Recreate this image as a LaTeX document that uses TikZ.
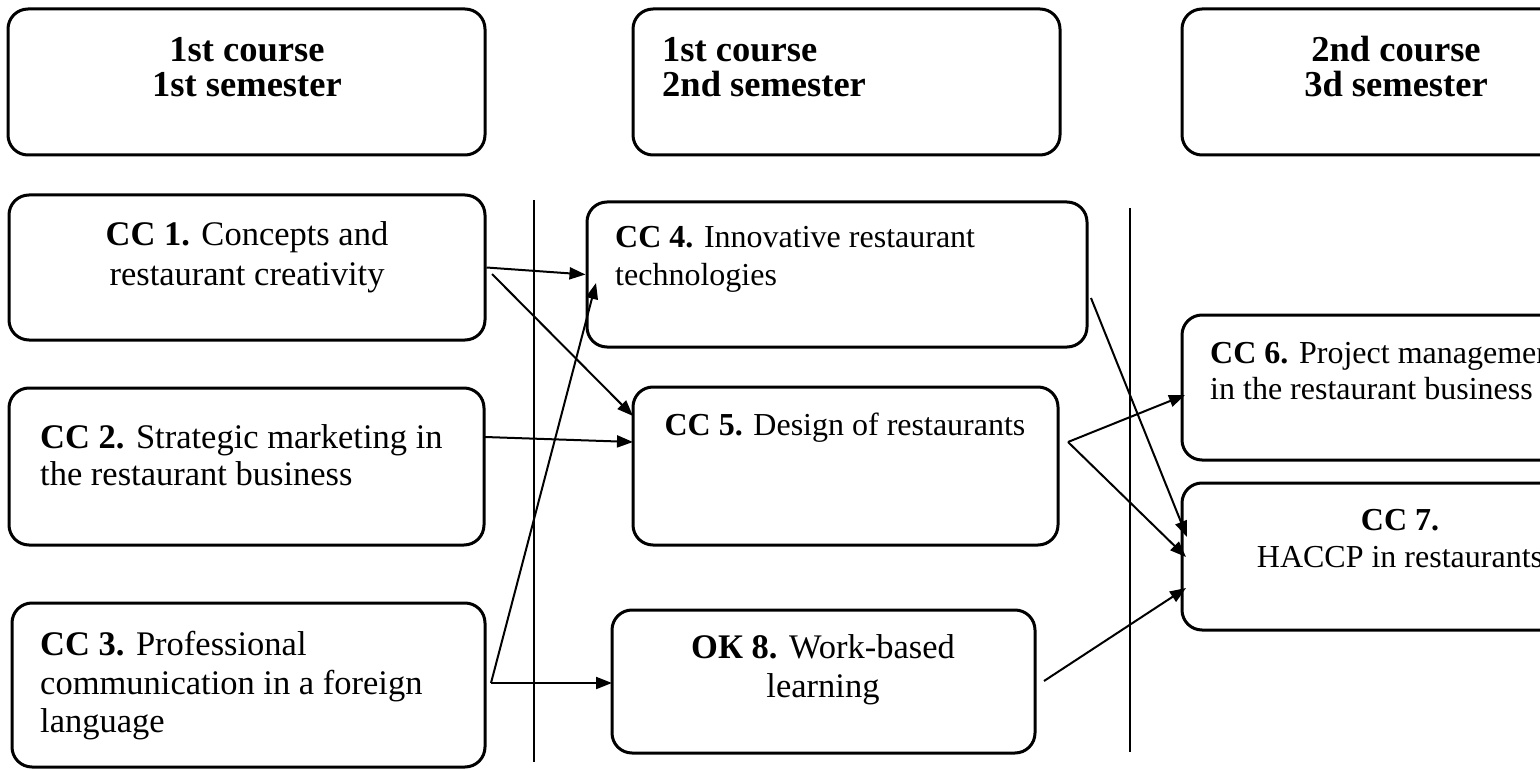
\documentclass[tikz,border=0pt]{standalone}
\usepackage{fontspec}
\setmainfont{Liberation Serif}
\usetikzlibrary{arrows.meta}
\begin{document}
\begin{tikzpicture}[x=1pt,y=-1pt,
  box/.style={draw, line width=3pt, rounded corners=20pt, inner sep=0pt},
  link/.style={line width=2pt, -{Triangle[length=16pt,width=12pt]}},
  divider/.style={line width=1.6pt},
  body/.style={inner sep=0pt, font=\fontsize{34.5}{40}\selectfont},
  bodys/.style={inner sep=0pt, font=\fontsize{32}{38}\selectfont},
  head/.style={inner sep=0pt, font=\fontsize{36.5}{40}\selectfont\bfseries}]
\useasboundingbox (0,0) rectangle (1540,770);
\clip (0,0) rectangle (1540,770);

% header boxes
\node[box, minimum width=477pt, minimum height=146pt] (h1) at (246.5,82) {};
\node[box, minimum width=427pt, minimum height=146pt] (h2) at (846.5,82) {};
\node[box, minimum width=438pt, minimum height=146pt] (h3) at (1401,82) {};

% course boxes
\node[box, minimum width=476pt, minimum height=145pt] (cc1) at (247,267.5) {};
\node[box, minimum width=475pt, minimum height=157pt] (cc2) at (246.5,466.5) {};
\node[box, minimum width=473pt, minimum height=164pt] (cc3) at (248.5,685) {};
\node[box, minimum width=500pt, minimum height=145pt] (cc4) at (837,274.5) {};
\node[box, minimum width=425pt, minimum height=158pt] (cc5) at (845.5,466) {};
\node[box, minimum width=423pt, minimum height=143pt] (ok8) at (823.5,681.5) {};
\node[box, minimum width=438pt, minimum height=145pt] (cc6) at (1401,387.5) {};
\node[box, minimum width=438pt, minimum height=147pt] (cc7) at (1401,556.5) {};

% header texts
\node[head, anchor=base] (h1a) at (247,62) {1st course};
\node[head, anchor=base] (h1b) at (247,97) {1st semester};
\node[head, anchor=base west] (h2a) at (662,62) {1st course};
\node[head, anchor=base west] (h2b) at (662,97) {2nd semester};
\node[head, anchor=base] (h3a) at (1396,62) {2nd course};
\node[head, anchor=base] (h3b) at (1396,97) {3d semester};

% course texts
\node[body, anchor=base] (t1a) at (247,246) {\textbf{CC 1.} Concepts and};
\node[body, anchor=base] (t1b) at (247,286) {restaurant creativity};
\node[body, anchor=base west] (t2a) at (40,448) {\textbf{CC 2.} Strategic marketing in};
\node[body, anchor=base west] (t2b) at (40,485) {the restaurant business};
\node[body, anchor=base west] (t3a) at (40,655) {\textbf{CC 3.} Professional};
\node[body, anchor=base west] (t3b) at (40,694) {communication in a foreign};
\node[body, anchor=base west] (t3c) at (40,732) {language};
\node[bodys, anchor=base west] (t4a) at (615,248) {\textbf{CC 4.} Innovative restaurant};
\node[bodys, anchor=base west] (t4b) at (615,285) {technologies};
\node[bodys, anchor=base] (t5a) at (845,435) {\textbf{CC 5.} Design of restaurants};
\node[body, anchor=base] (t8a) at (823,658) {\textbf{ОК 8.} Work-based};
\node[body, anchor=base] (t8b) at (823,697) {learning};
\node[bodys, anchor=base west] (t6a) at (1210,363) {\textbf{CC 6.} Project management};
\node[bodys, anchor=base west] (t6b) at (1210,399) {in the restaurant business};
\node[bodys, anchor=base] (t7a) at (1400,530) {\textbf{CC 7.}};
\node[bodys, anchor=base] (t7b) at (1400,567) {HACCP in restaurants};

% dividers
\coordinate (v1t) at (534,200);
\coordinate (v1b) at (534,762);
\coordinate (v2t) at (1130,208);
\coordinate (v2b) at (1130,752);
\draw[divider] (v1t) -- (v1b);
\draw[divider] (v2t) -- (v2b);

% connector points
\coordinate (p1) at (492,274);
\coordinate (e5a) at (633,416);
\coordinate (s2) at (485,437);
\coordinate (e5b) at (633,442);
\coordinate (p3) at (491,683);
\coordinate (e4) at (596,283);
\coordinate (e8) at (612,683);
\coordinate (s4) at (1091,298);
\coordinate (e7a) at (1187,537);
\coordinate (p5) at (1068,442);
\coordinate (e6) at (1185,395);
\coordinate (e7b) at (1186,557);
\coordinate (s8) at (1044,681);
\coordinate (e7c) at (1186,588);

% connectors
\draw[link] (cc1.east) -- (cc4.west);
\draw[link] (p1) -- (e5a);
\draw[link] (s2) -- (e5b);
\draw[link] (p3) -- (e4);
\draw[link] (p3) -- (e8);
\draw[link] (s4) -- (e7a);
\draw[link] (p5) -- (e6);
\draw[link] (p5) -- (e7b);
\draw[link] (s8) -- (e7c);
\end{tikzpicture}
\end{document}
